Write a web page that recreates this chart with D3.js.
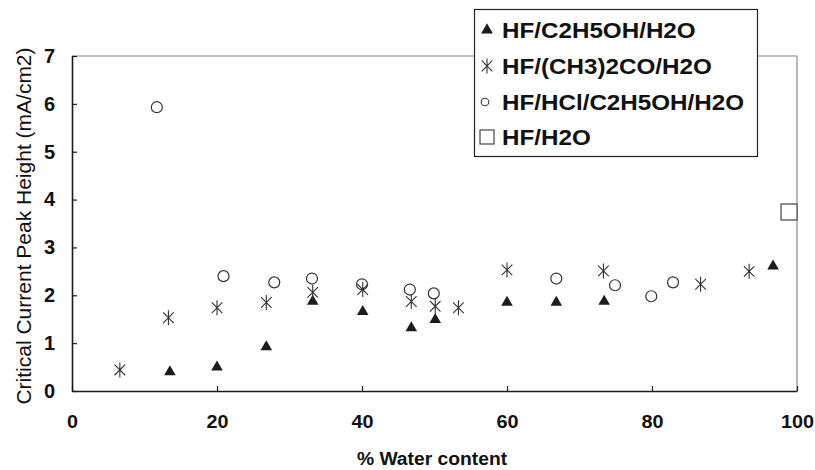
<!DOCTYPE html>
<html>
<head>
<meta charset="utf-8">
<script src="https://cdn.jsdelivr.net/npm/d3@7"></script>
<style>
  body { margin: 0; background: #fff; }
  svg { display: block; font-family: Arial, "Liberation Sans", sans-serif; }
</style>
</head>
<body>
<svg id="chart" width="815" height="470"></svg>
<script>
// Data
const seriesNames = ['HF/C2H5OH/H2O', 'HF/(CH3)2CO/H2O', 'HF/HCl/C2H5OH/H2O', 'HF/H2O'];

const triX = [13.5, 20.0, 26.8, 33.2, 40.1, 46.8, 50.1, 60.0, 66.8, 73.4, 96.7];
const triY = [0.40, 0.50, 0.92, 1.87, 1.66, 1.32, 1.49, 1.85, 1.85, 1.87, 2.61];

const astX = [6.6, 13.3, 20.0, 26.8, 33.2, 40.1, 46.8, 50.1, 53.3, 60.0, 73.3, 86.7, 93.4];
const astY = [0.44, 1.53, 1.74, 1.85, 2.06, 2.12, 1.87, 1.77, 1.74, 2.53, 2.51, 2.23, 2.50];

const cirX = [11.7, 20.9, 27.9, 33.1, 40.0, 46.6, 49.9, 66.8, 74.9, 79.9, 82.9];
const cirY = [5.93, 2.40, 2.27, 2.35, 2.23, 2.12, 2.04, 2.35, 2.21, 1.98, 2.27];

const sqX = [98.9];
const sqY = [3.74];

const xTicks = [0, 20, 40, 60, 80, 100];
const yTicks = [0, 1, 2, 3, 4, 5, 6, 7];

const zip = (xs, ys) => xs.map((x, i) => ({ x: x, y: ys[i] }));

// stretch text horizontally a bit, the original picture is slightly wide
function stretch(sel, k) {
    sel.each(function() {
        const w = this.getComputedTextLength();
        d3.select(this).attr('textLength', w * k).attr('lengthAdjust', 'spacingAndGlyphs');
    });
}

const svg = d3.select('#chart');
const plotLeft = 72, plotRight = 797, plotTop = 56, plotBottom = 391;

const x = d3.scaleLinear().domain([0, 100]).range([plotLeft, plotRight]);
const y = d3.scaleLinear().domain([0, 7]).range([plotBottom, plotTop]);

// plot frame (top and right in grey)
svg.append('path')
    .attr('d', `M${plotLeft},${plotTop}H${plotRight}V${plotBottom}`)
    .attr('fill', 'none')
    .attr('stroke', '#8a8a8a')
    .attr('stroke-width', 1.2);

// axes with inward ticks
const xAxis = svg.append('g')
    .attr('transform', `translate(0,${plotBottom})`)
    .call(d3.axisBottom(x).tickValues(xTicks).tickFormat(d3.format('d'))
        .tickSizeInner(-5).tickSizeOuter(0).tickPadding(24));

const yAxis = svg.append('g')
    .attr('transform', `translate(${plotLeft},0)`)
    .call(d3.axisLeft(y).tickValues(yTicks).tickFormat(d3.format('d'))
        .tickSizeInner(-5).tickSizeOuter(0).tickPadding(17));

[xAxis, yAxis].forEach(g => {
    g.select('.domain').attr('stroke', '#1a1a1a').attr('stroke-width', 1.6);
    g.selectAll('.tick line').attr('stroke', '#1a1a1a').attr('stroke-width', 1.2);
    g.selectAll('.tick text')
        .attr('fill', '#111')
        .style('font-family', 'Arial, "Liberation Sans", sans-serif')
        .style('font-weight', 'bold');
});
xAxis.selectAll('.tick text').style('font-size', '18px').call(stretch, 1.1);
yAxis.selectAll('.tick text').style('font-size', '20px');

// axis titles
svg.append('text')
    .attr('x', 432)
    .attr('y', 465)
    .attr('text-anchor', 'middle')
    .style('font-size', '18px')
    .style('font-weight', 'bold')
    .attr('fill', '#111')
    .text('% Water content')
    .call(stretch, 1.07);

svg.append('text')
    .attr('transform', 'translate(31,226) rotate(-90)')
    .attr('text-anchor', 'middle')
    .style('font-size', '21px')
    .attr('fill', '#111')
    .text('Critical Current Peak Height (mA/cm2)');

// marker shapes
function asterisk(r) {
    const d = r * Math.SQRT1_2;
    return `M0,${-r}V${r}M${-d},${-d}L${d},${d}M${-d},${d}L${d},${-d}`;
}

const plot = svg.append('g');

plot.selectAll('.tri')
    .data(zip(triX, triY))
    .enter().append('path')
    .attr('class', 'tri')
    .attr('transform', d => `translate(${x(d.x)},${y(d.y)})`)
    .attr('d', d3.symbol(d3.symbolTriangle, 58))
    .attr('fill', '#1c1c1c');

plot.selectAll('.ast')
    .data(zip(astX, astY))
    .enter().append('path')
    .attr('class', 'ast')
    .attr('transform', d => `translate(${x(d.x)},${y(d.y)})`)
    .attr('d', asterisk(7.5))
    .attr('fill', 'none')
    .attr('stroke', '#333')
    .attr('stroke-width', 1.1);

plot.selectAll('.cir')
    .data(zip(cirX, cirY))
    .enter().append('circle')
    .attr('class', 'cir')
    .attr('cx', d => x(d.x))
    .attr('cy', d => y(d.y))
    .attr('r', 5.5)
    .attr('fill', 'none')
    .attr('stroke', '#333')
    .attr('stroke-width', 1.2);

plot.selectAll('.sq')
    .data(zip(sqX, sqY))
    .enter().append('rect')
    .attr('class', 'sq')
    .attr('x', d => x(d.x) - 8)
    .attr('y', d => y(d.y) - 8)
    .attr('width', 16)
    .attr('height', 16)
    .attr('fill', '#fff')
    .attr('stroke', '#444')
    .attr('stroke-width', 1.2);

// legend
const legend = svg.append('g');
legend.append('rect')
    .attr('x', 474.5)
    .attr('y', 9.5)
    .attr('width', 283)
    .attr('height', 147)
    .attr('fill', '#fff')
    .attr('stroke', '#222')
    .attr('stroke-width', 1.2);

const rowY = [30, 66, 102, 137];
const items = legend.selectAll('.item')
    .data(seriesNames)
    .enter().append('g')
    .attr('class', 'item')
    .attr('transform', (d, i) => `translate(487,${rowY[i]})`);

items.filter((d, i) => i === 0).append('path')
    .attr('d', d3.symbol(d3.symbolTriangle, 60))
    .attr('fill', '#1c1c1c');
items.filter((d, i) => i === 1).append('path')
    .attr('d', asterisk(7.5))
    .attr('fill', 'none')
    .attr('stroke', '#333')
    .attr('stroke-width', 1.1);
items.filter((d, i) => i === 2).append('circle')
    .attr('cx', -2)
    .attr('r', 3.8)
    .attr('fill', 'none')
    .attr('stroke', '#333')
    .attr('stroke-width', 1.1);
items.filter((d, i) => i === 3).append('rect')
    .attr('x', -7)
    .attr('y', -7)
    .attr('width', 14)
    .attr('height', 14)
    .attr('fill', '#fff')
    .attr('stroke', '#444')
    .attr('stroke-width', 1.2);

items.append('text')
    .attr('x', 15)
    .attr('dy', '0.36em')
    .style('font-size', '22px')
    .style('font-weight', 'bold')
    .attr('fill', '#111')
    .text(d => d)
    .call(stretch, 1.1);
</script>
</body>
</html>
